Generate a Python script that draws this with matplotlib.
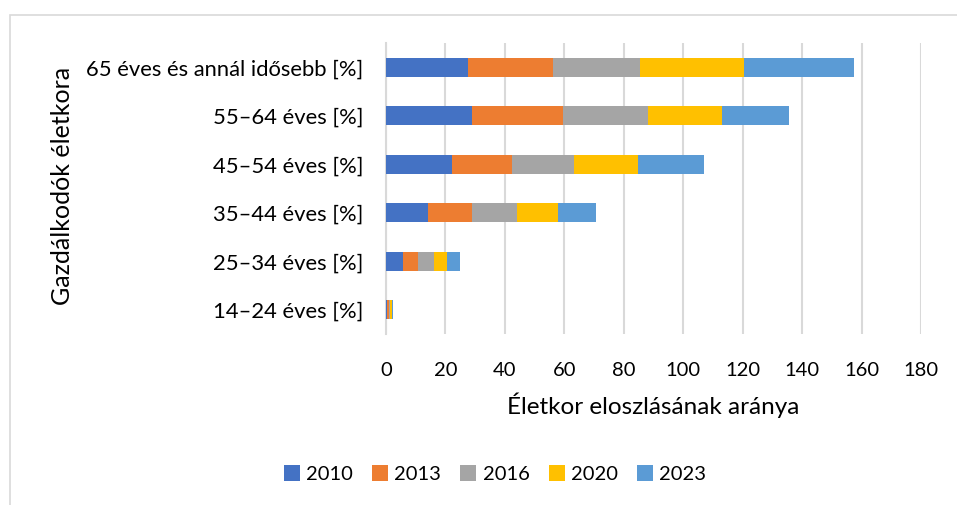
import matplotlib.pyplot as plt
from matplotlib.patches import Rectangle
import numpy as np

# age groups, bottom to top
categories = ['14–24 éves [%]', '25–34 éves [%]', '35–44 éves [%]',
              '45–54 éves [%]', '55–64 éves [%]', '65 éves és annál idősebb [%]']
years = ['2010', '2013', '2016', '2020', '2023']
v2010 = [0.5, 5.8, 14.2, 22.1, 29.1, 27.7]
v2013 = [0.6, 5.0, 14.6, 20.2, 30.5, 28.6]
v2016 = [0.4, 5.3, 15.3, 21.0, 28.5, 29.2]
v2020 = [0.4, 4.5, 13.8, 21.4, 24.9, 35.0]
v2023 = [0.5, 4.4, 12.8, 22.4, 22.7, 36.8]
colors = ['#4472C4', '#ED7D31', '#A5A5A5', '#FFC000', '#5B9BD5']

plt.rcParams['font.family'] = ['Lato', 'DejaVu Sans']

fig = plt.figure(figsize=(9.57, 5.05), dpi=100)
ax = fig.add_axes([0.4033, 0.3386, 0.5591, 0.5763])

# chart area border like in Excel
fig.patches.append(Rectangle((10 / 957, -0.01), 1.0, 1 - 15 / 505 + 0.01,
                             transform=fig.transFigure, fill=False,
                             ec='#D9D9D9', lw=1.2))

y = np.arange(len(categories))
left = np.zeros(len(categories))
for name, vals, c in zip(years, [v2010, v2013, v2016, v2020, v2023], colors):
    ax.barh(y, vals, left=left, height=0.4, color=c, label=name, zorder=3)
    left += np.array(vals)

ax.set_xlim(0, 180)
ax.set_ylim(-0.5, len(categories) - 0.5)
ax.set_xticks(np.arange(0, 181, 20))
ax.set_yticks(y)
ax.set_yticklabels(categories)
ax.tick_params(axis='both', length=0, colors='#000000')
ax.tick_params(axis='x', pad=20, labelsize=14.5)
ax.tick_params(axis='y', pad=16, labelsize=15.8)
ax.grid(axis='x', color='#D9D9D9', lw=1.5, zorder=0)
for s in ['top', 'right', 'bottom']:
    ax.spines[s].set_visible(False)
ax.spines['left'].set_color('#D9D9D9')
ax.spines['left'].set_linewidth(1.5)

ax.set_xlabel('Életkor eloszlásának aránya', fontsize=17.5, labelpad=10)
fig.text(62 / 957, 1 - 186 / 505, 'Gazdálkodók életkora', rotation=90,
         fontsize=18, ha='center', va='center')

fig.legend(loc='center', bbox_to_anchor=(495 / 957, 1 - 474 / 505), ncol=5,
           frameon=False, fontsize=14.5, handlelength=0.8, handleheight=0.8,
           handletextpad=0.3, columnspacing=0.95)

plt.savefig('out.png', dpi=100)
plt.close()
